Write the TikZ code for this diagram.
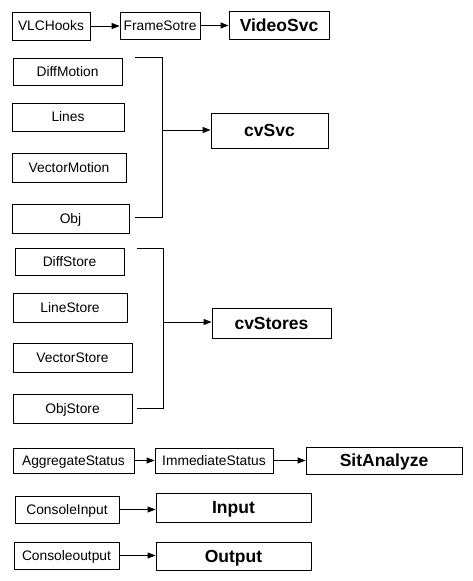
\documentclass[tikz,border=0pt]{standalone}
\usepackage{fontspec}
\setmainfont{Liberation Sans}
\usetikzlibrary{arrows.meta}
\begin{document}
\begin{tikzpicture}[x=1pt,y=-1pt,
  box/.style={draw=black,line width=0.9pt,inner sep=0pt,text height=9.9pt,text depth=0pt,font=\fontsize{13.8}{15}\selectfont},
  bigbox/.style={draw=black,line width=0.9pt,inner sep=0pt,text height=12.6pt,text depth=0pt,font=\fontsize{17.5}{20}\selectfont\bfseries},
  arr/.style={line width=0.9pt,-{Triangle[length=8pt,width=6pt]}},
  brk/.style={line width=0.9pt}]
\useasboundingbox[fill=white] (0,0) rectangle (472,581);
% row 1
\node[box,minimum width=78pt,minimum height=28pt] (vlc) at (51,26) {VLCHooks};
\node[box,minimum width=80pt,minimum height=27pt] (fs) at (160,25.5) {FrameSotre};
\node[bigbox,minimum width=100pt,minimum height=28pt] (vs) at (279,25) {VideoSvc};
\draw[arr] (vlc.east) -- (vlc.east -| fs.west);
\draw[arr] (fs.east) -- (fs.east -| vs.west);
% cvSvc group
\node[box,minimum width=109pt,minimum height=27pt] (dm) at (67.5,71.5) {DiffMotion};
\node[box,minimum width=112pt,minimum height=28pt] (ln) at (68,117) {Lines};
\node[box,minimum width=114pt,minimum height=29pt] (vm) at (69,167.5) {VectorMotion};
\node[box,minimum width=117pt,minimum height=29pt] (obj) at (70.5,218.5) {Obj};
\node[bigbox,minimum width=117pt,minimum height=35pt] (cvsvc) at (269.5,130.5) {cvSvc};
\coordinate (b1a) at (135,57);
\coordinate (b1b) at (162,57);
\coordinate (b1c) at (162,217);
\coordinate (b1d) at (135,217);
\coordinate (b1m) at (162,130);
\draw[brk] (b1a) -- (b1b) -- (b1c) -- (b1d);
\draw[arr] (b1m) -- (b1m -| cvsvc.west);
% cvStores group
\node[box,minimum width=109pt,minimum height=27pt] (ds) at (69.5,261.5) {DiffStore};
\node[box,minimum width=114pt,minimum height=29pt] (ls) at (70,307.5) {LineStore};
\node[box,minimum width=119pt,minimum height=29pt] (vst) at (72.5,357.5) {VectorStore};
\node[box,minimum width=119pt,minimum height=29pt] (os) at (72.5,408.5) {ObjStore};
\node[bigbox,minimum width=119pt,minimum height=30pt] (cvst) at (271.5,323) {cvStores};
\coordinate (b2a) at (137,248);
\coordinate (b2b) at (163,248);
\coordinate (b2c) at (163,408);
\coordinate (b2d) at (137,408);
\coordinate (b2m) at (163,322);
\draw[brk] (b2a) -- (b2b) -- (b2c) -- (b2d);
\draw[arr] (b2m) -- (b2m -| cvst.west);
% status row
\node[box,minimum width=121pt,minimum height=25pt] (ag) at (73.5,460.5) {AggregateStatus};
\node[box,minimum width=118pt,minimum height=25pt] (im) at (214,460.5) {ImmediateStatus};
\node[bigbox,minimum width=156pt,minimum height=27pt] (sa) at (384,460.5) {SitAnalyze};
\draw[arr] (ag.east) -- (ag.east -| im.west);
\draw[arr] (im.east) -- (im.east -| sa.west);
% input
\node[box,minimum width=104pt,minimum height=27pt] (ci) at (67,509.5) {ConsoleInput};
\node[bigbox,minimum width=155pt,minimum height=29pt] (inp) at (233.5,507.5) {Input};
\draw[arr] (ci.east) -- (ci.east -| inp.west);
% output
\node[box,minimum width=105pt,minimum height=27pt] (co) at (66.5,555.5) {Consoleoutput};
\node[bigbox,minimum width=155pt,minimum height=28pt] (out) at (233.5,556) {Output};
\draw[arr] (co.east) -- (co.east -| out.west);
\end{tikzpicture}
\end{document}
